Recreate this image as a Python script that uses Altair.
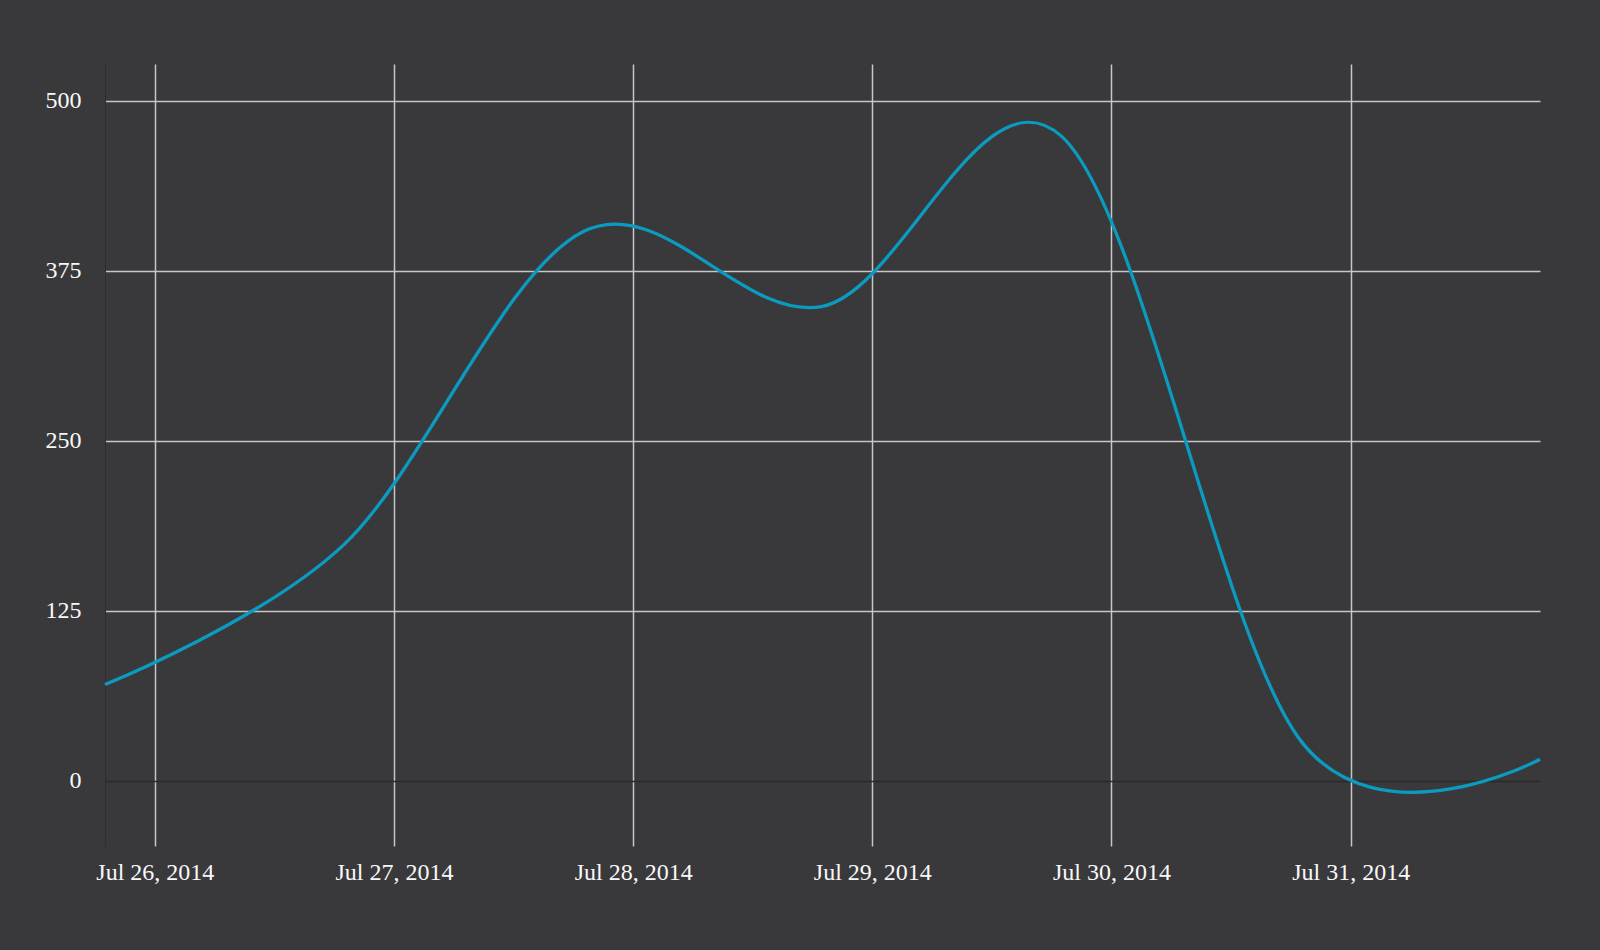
import altair as alt
import pandas as pd

# ---- data ----
dates = [
    "2014-07-25T19:00:00",
    "2014-07-26T19:00:00",
    "2014-07-27T19:00:00",
    "2014-07-28T19:00:00",
    "2014-07-29T19:00:00",
    "2014-07-30T19:00:00",
    "2014-07-31T19:00:00",
]
values = [71, 174, 404, 349, 474, 29.5, 16]
y_ticks = [0, 125, 250, 375, 500]
x_tick_days = [26, 27, 28, 29, 30, 31]

BG = "#39393b"

# page background matches the chart background
try:
    import altair.utils.html as _h
    _orig = _h.TEMPLATES["standard"]

    class _Tpl:
        def render(self, *args, **kwargs):
            html = _orig.render(*args, **kwargs)
            return html.replace(
                "<head>",
                "<head>\n<style>html, body { background: %s; }</style>" % BG,
                1,
            )

    _h.TEMPLATES["standard"] = _Tpl()
except Exception:
    pass

df = pd.DataFrame({"date": dates, "value": values})

FONT = "Liberation Serif"
LABEL = "#f8f8f8"
GRID = "#c6c6c6"

x_axis = alt.Axis(
    values=[alt.DateTime(year=2014, month=7, date=d) for d in x_tick_days],
    format="%b %d, %Y",
    title=None,
    grid=True,
    gridColor=GRID,
    gridWidth=1.5,
    ticks=False,
    tickSize=0,
    domain=False,
    labelFont=FONT,
    labelFontSize=24,
    labelColor=LABEL,
    labelPadding=14,
    labelFlush=False,
    labelOverlap=False,
)

y_axis = alt.Axis(
    values=y_ticks,
    format="d",
    title=None,
    grid=True,
    gridColor=alt.condition("datum.value === 0", alt.value("#2a2a2a"), alt.value(GRID)),
    gridWidth=1.5,
    ticks=False,
    tickSize=0,
    domain=True,
    domainColor="#2e2e2e",
    domainWidth=1,
    labelFont=FONT,
    labelFontSize=24,
    labelColor=LABEL,
    labelPadding=24,
    labelFlush=False,
    labelOverlap=False,
)

chart = (
    alt.Chart(df)
    .mark_line(interpolate="cardinal", color="#0b9bc1", strokeWidth=3.3)
    .encode(
        x=alt.X("date:T", axis=x_axis, scale=alt.Scale(nice=False)),
        y=alt.Y("value:Q", axis=y_axis, scale=alt.Scale(domain=[-47.8, 527.2], nice=False, zero=False)),
    )
    .properties(
        width=1435,
        height=782,
        autosize=alt.AutoSizeParams(type="none"),
        padding={"left": 97, "top": 56, "right": 52, "bottom": 96},
        background=BG,
    )
    .configure_view(stroke=None)
)

chart.save("out.html", embed_options={"renderer": "svg", "actions": False})
